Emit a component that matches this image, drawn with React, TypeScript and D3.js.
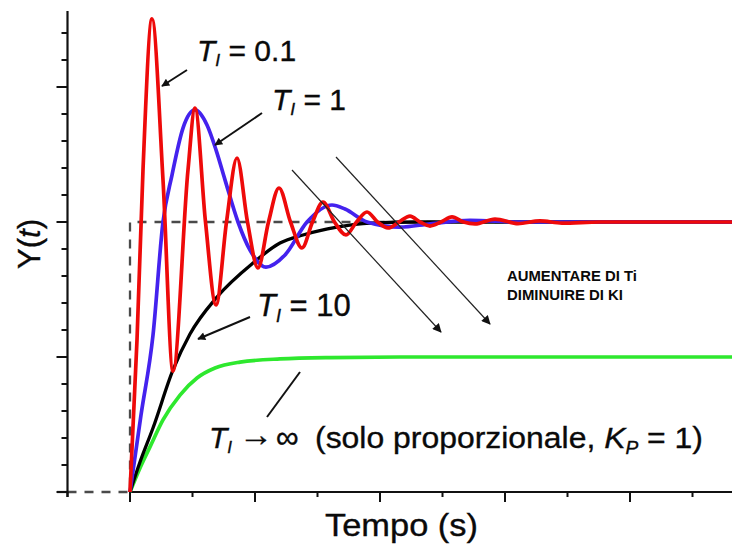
import React from 'react';
import * as d3 from 'd3';

// ---- data (t in time units, y as fraction of setpoint) ----
const redT = [0, 0.112, 0.208, 0.352, 0.528, 0.688, 0.928, 1.04, 1.208, 1.376, 1.544, 1.712, 1.88, 2.048, 2.216, 2.384, 2.568, 2.752, 2.92, 3.088, 3.272, 3.456, 3.624, 3.792, 3.96, 4.128, 4.304, 4.48, 4.64, 4.8, 4.976, 5.152, 5.336, 5.52, 5.84, 6.208, 6.56, 6.91, 7.52, 9.632];
const redY = [0, 0.563, 1.193, 1.752, 1.156, 0.448, 1.193, 1.422, 1.0, 0.693, 1.0, 1.237, 1.0, 0.83, 1.0, 1.126, 1.0, 0.904, 1.0, 1.074, 1.0, 0.952, 1.0, 1.037, 1.0, 0.978, 1.0, 1.022, 1.0, 0.985, 1.0, 1.019, 1.0, 0.993, 1.011, 0.994, 1.004, 0.996, 1.0, 1.0];

const blueT = [0, 0.176, 0.368, 0.528, 0.672, 0.848, 1.04, 1.232, 1.376, 1.52, 1.728, 1.92, 2.176, 2.48, 2.832, 3.232, 3.44, 3.792, 4.32, 4.8, 5.44, 6.24, 9.632];
const blueY = [0, 0.285, 0.581, 1.0, 1.174, 1.348, 1.415, 1.359, 1.267, 1.156, 1.0, 0.896, 0.833, 0.878, 1.0, 1.063, 1.048, 1.0, 0.981, 0.993, 1.006, 1.0, 1.0];

const blackT = [0, 0.16, 0.368, 0.688, 0.96, 1.392, 1.968, 2.4, 2.768, 3.312, 3.84, 4.64, 9.632];
const blackY = [0, 0.111, 0.237, 0.452, 0.585, 0.722, 0.848, 0.922, 0.952, 0.981, 0.996, 1.0, 1.0];

const greenT = [0, 0.16, 0.32, 0.528, 0.8, 1.072, 1.36, 1.76, 2.4, 3.2, 4.32, 9.632];
const greenY = [0, 0.089, 0.167, 0.267, 0.359, 0.422, 0.459, 0.481, 0.493, 0.498, 0.5, 0.5];

const stepT = [-1, 0, 0, 9.632];
const stepY = [0, 0, 1, 1];

const xTickValues = [-1, 0, 1, 2, 3, 4, 5, 6, 7, 8, 9];
const xMajorTicks = [0, 2, 4, 6, 8];
const yTickValues = d3.range(0, 18).map((i) => i / 10);
const yMajorTicks = [0, 0.5, 1.0, 1.5];

const xLabel = 'Tempo (s)';
const noteLines = ['AUMENTARE DI Ti', 'DIMINUIRE DI KI'];
const noteWidths = [130, 116];

const FONT = '"Liberation Sans", Arial, Helvetica, sans-serif';
const INK = '#0a0a0a';

export default function App() {
  const W = 732;
  const H = 544;
  const x = d3.scaleLinear().domain([-1, 9.632]).range([67.5, 732]);
  const y = d3.scaleLinear().domain([0, 1.78]).range([492, 11.4]);

  const mk = (ts: number[], ys: number[]) =>
    d3
      .line<number>()
      .x((_, i) => x(ts[i]))
      .y((v) => y(v))
      .curve(d3.curveMonotoneX)(ys) || '';

  const stepPath = d3
    .line<number>()
    .x((_, i) => x(stepT[i]))
    .y((v) => y(v))(stepY) || '';

  const x0 = x(-1);
  const xAxisY = y(0);

  const textInk = { fill: INK, stroke: INK, strokeWidth: 0.35 };

  const label = (px: number, py: number, size: number, rest: string) => (
    <text x={px} y={py} fontSize={size} fontFamily={FONT} {...textInk}>
      <tspan fontStyle="italic">T</tspan>
      <tspan fontStyle="italic" fontSize={size * 0.58} dy={size * 0.18}>
        I
      </tspan>
      <tspan dy={-size * 0.18}>{rest}</tspan>
    </text>
  );

  return (
    <svg
      width={W}
      height={H}
      style={{ position: 'absolute', left: 0, top: 0, background: '#fff' }}
    >
      <defs>
        <marker
          id="ah"
          viewBox="0 0 10 10"
          refX="9"
          refY="5"
          markerWidth="11"
          markerHeight="8"
          markerUnits="userSpaceOnUse"
          orient="auto"
        >
          <path d="M0,0 L10,5 L0,10 z" fill="#111" />
        </marker>
        <marker
          id="ah2"
          viewBox="0 0 10 10"
          refX="9"
          refY="5"
          markerWidth="13"
          markerHeight="9"
          markerUnits="userSpaceOnUse"
          orient="auto"
        >
          <path d="M0,0 L10,5 L0,10 z" fill="#111" />
        </marker>
      </defs>

      {/* step input (dashed) */}
      <path d={stepPath} fill="none" stroke="#4a4a4a" strokeWidth={2.3} strokeDasharray="9,8" />

      {/* axes */}
      <line x1={x0} y1={11} x2={x0} y2={497} stroke="#111" strokeWidth={2.2} />
      <line x1={57} y1={xAxisY} x2={x0} y2={xAxisY} stroke="#111" strokeWidth={2.2} />
      <line x1={x(0)} y1={xAxisY} x2={W} y2={xAxisY} stroke="#111" strokeWidth={2.2} />
      {yTickValues.map((v) => {
        const major = yMajorTicks.some((m) => Math.abs(m - v) < 1e-6);
        return (
          <line
            key={'y' + v}
            x1={x0 - (major ? 11 : 6)}
            x2={x0}
            y1={y(v)}
            y2={y(v)}
            stroke="#111"
            strokeWidth={2}
          />
        );
      })}
      {xTickValues.map((v) => {
        const major = xMajorTicks.includes(v);
        return (
          <line
            key={'x' + v}
            x1={x(v)}
            x2={x(v)}
            y1={xAxisY}
            y2={xAxisY + (major ? 10 : 5)}
            stroke="#111"
            strokeWidth={2}
          />
        );
      })}

      {/* curves */}
      <path d={mk(greenT, greenY)} fill="none" stroke="#2ee82e" strokeWidth={3.7} />
      <path d={mk(blackT, blackY)} fill="none" stroke="#000" strokeWidth={3.3} />
      <path d={mk(blueT, blueY)} fill="none" stroke="#4422ee" strokeWidth={3.7} />
      <path d={mk(redT, redY)} fill="none" stroke="#ee0a0a" strokeWidth={3.7} />

      {/* big diagonal arrows */}
      <line x1={292} y1={170} x2={441} y2={332} stroke="#222" strokeWidth={1.2} markerEnd="url(#ah2)" />
      <line x1={336} y1={157} x2={490} y2={324} stroke="#222" strokeWidth={1.2} markerEnd="url(#ah2)" />

      {/* pointer arrows */}
      <line x1={187} y1={70} x2={162} y2={86} stroke="#111" strokeWidth={2} markerEnd="url(#ah)" />
      <line x1={262} y1={113} x2={215} y2={145} stroke="#111" strokeWidth={2} markerEnd="url(#ah)" />
      <line x1={250} y1={317} x2={198} y2={339} stroke="#111" strokeWidth={2} markerEnd="url(#ah)" />
      <line x1={267} y1={417} x2={300} y2={372} stroke="#111" strokeWidth={2} />

      {/* labels */}
      {label(197, 61, 30, ' = 0.1')}
      {label(272, 110, 30, ' = 1')}
      {label(257, 316, 31, ' = 10')}

      <text x={209} y={448} fontSize={30} fontFamily={FONT} {...textInk}>
        <tspan fontStyle="italic">T</tspan>
        <tspan fontStyle="italic" fontSize={17} dy={5}>
          I
        </tspan>
      </text>
      <text x={239} y={446} fontSize={34} fontFamily={FONT} {...textInk}>
        →
      </text>
      <text x={276} y={448} fontSize={32} fontFamily={FONT} {...textInk}>
        ∞
      </text>
      <text
        x={315}
        y={448}
        fontSize={30}
        fontFamily={FONT}
        textLength={388}
        lengthAdjust="spacingAndGlyphs"
        {...textInk}
      >
        <tspan>(solo proporzionale, </tspan>
        <tspan fontStyle="italic">K</tspan>
        <tspan fontStyle="italic" fontSize={18} dy={6}>
          P
        </tspan>
        <tspan dy={-6}> = 1)</tspan>
      </text>

      {noteLines.map((s, i) => (
        <text
          key={s}
          x={507}
          y={281 + i * 19}
          fontSize={14}
          fontWeight="bold"
          fontFamily={FONT}
          textLength={noteWidths[i]}
          lengthAdjust="spacingAndGlyphs"
          fill={INK}
        >
          {s}
        </text>
      ))}

      <text
        transform={`translate(40,244) rotate(-90)`}
        textAnchor="middle"
        fontSize={31}
        fontFamily={FONT}
        {...textInk}
      >
        Y(<tspan fontStyle="italic">t</tspan>)
      </text>

      <text
        x={325}
        y={536}
        fontSize={32}
        fontFamily={FONT}
        textLength={153}
        lengthAdjust="spacingAndGlyphs"
        {...textInk}
      >
        {xLabel}
      </text>
    </svg>
  );
}
